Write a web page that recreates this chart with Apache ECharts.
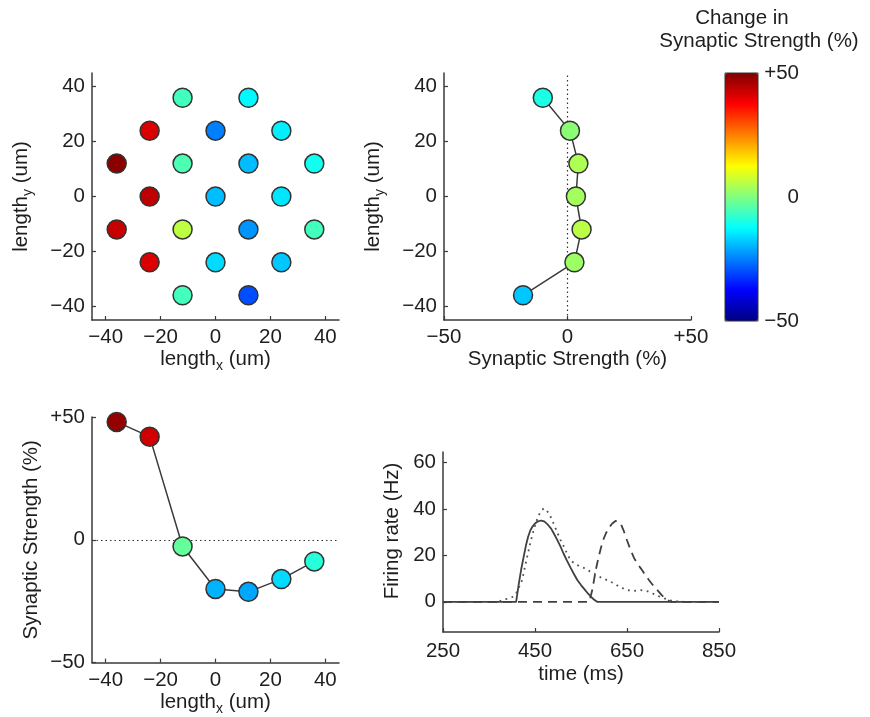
<!DOCTYPE html>
<html><head><meta charset="utf-8">
<script src="https://cdn.jsdelivr.net/npm/echarts@6/dist/echarts.min.js"></script>
<style>html,body{margin:0;padding:0;background:#fff}#c{width:870px;height:717px}</style>
</head><body><div id="c"></div>
<script>
// ---- data ----
const mapX = [-12, 12, -24, 0, 24, -36, -12, 12, 36, -24, 0, 24, -36, -12, 12, 36, -24, 0, 24, -12, 12];
const mapY = [36, 36, 24, 24, 24, 12, 12, 12, 12, 0, 0, 0, -12, -12, -12, -12, -24, -24, -24, -36, -36];
const mapChange = [-6, -13, 41, -25, -14, 49, -5, -19, -11, 44, -19, -15, 43, 6, -23, -6, 41, -16, -18, -6, -30];

const rowY = [36, 24, 12, 0, -12, -24, -36];
const rowStrength = [-10, 1, 4.4, 3.4, 5.7, 2.8, -18];

const colX = [-36, -24, -12, 0, 12, 24, 36];
const colStrength = [48, 42, -2.7, -20, -21.2, -16, -8.8];

const solidT = [250, 409, 415, 420, 425, 430, 435, 440, 445, 450, 455, 463, 470, 478, 485, 491, 498, 505, 512, 520, 527, 534, 542, 550, 556, 565, 572, 578, 585, 850];
const solidV = [0, 0, 8, 14, 19, 24, 28, 30.8, 32.5, 33.7, 34.5, 35, 34.6, 33.2, 31.5, 29.4, 26.8, 24, 20.8, 17.5, 14.8, 12.2, 9.4, 7.2, 5.8, 3.6, 2.1, 1, 0, 0];

const dotT = [250, 370, 382, 392, 403, 410, 416, 422, 427, 433, 440, 447, 452, 458, 464, 469, 474, 479, 484, 491, 498, 505, 513, 520, 527, 535, 542, 550, 560, 570, 580, 593, 607, 622, 636, 651, 665, 680, 695, 709, 720, 731, 745, 760, 775, 850];
const dotV = [0, 0, 1, 1.4, 2.2, 4, 6.5, 9.3, 14, 19.4, 25.5, 30.8, 34, 37.3, 39.3, 40.2, 39.8, 38.3, 36.6, 33.4, 30.1, 26.8, 23.7, 20.6, 18, 16.6, 15.8, 15.2, 14.2, 13, 12, 10.5, 9.3, 7.9, 6.2, 5, 4.7, 5, 4.5, 3.3, 2.3, 1.5, 0.6, 0.2, 0, 0];

const dashT = [250, 568, 575, 582, 588, 593, 598, 604, 611, 618, 625, 631, 637, 643, 650, 658, 665, 672, 680, 689, 698, 707, 716, 725, 732, 738, 745, 850];
const dashV = [0, 0, 5.5, 13.6, 19, 23, 26.5, 29.4, 32, 33.7, 34.8, 34.5, 33.3, 30.5, 26.5, 22.2, 19, 16.5, 14.4, 11.8, 9.3, 7, 5, 3, 1.6, 0.7, 0, 0];

const posTicks = [-40, -20, 0, 20, 40];
const pctTicks = [-50, 0, 50];
const timeTicks = [250, 450, 650, 850];
const rateTicks = [0, 20, 40, 60];

// ---- style ----
const FONT = 'Liberation Sans';
const FS = 20.5;
const TXT = '#1e1e1e';
const LINE = '#3a3a3a';
const jet = ['#000080', '#0000FF', '#0080FF', '#00FFFF', '#80FF80', '#FFFF00', '#FF8000', '#FF0000', '#800000'];

const minus = v => (v < 0 ? '\u2212' + (-v) : String(v));
const signed = v => (v > 0 ? '+' + v : v < 0 ? '\u2212' + (-v) : '0');

const rich = {
  m: { fontSize: FS, fontFamily: FONT, color: TXT, lineHeight: 28, verticalAlign: 'middle' },
  s: { fontSize: 14, fontFamily: FONT, color: TXT, lineHeight: 14, verticalAlign: 'bottom' }
};

function axis(gi, min, max, ticks, fmt, name, nameGap, extra) {
  return Object.assign({
    type: 'value', gridIndex: gi, min: min, max: max,
    axisLine: { show: true, onZero: false, lineStyle: { color: LINE, width: 1.5 } },
    axisTick: { show: true, inside: true, length: 4, customValues: ticks, lineStyle: { color: LINE, width: 1.2 } },
    axisLabel: { customValues: ticks, formatter: fmt, margin: 7, fontSize: FS, fontFamily: FONT, color: TXT },
    splitLine: { show: false },
    name: name, nameLocation: 'middle', nameGap: nameGap,
    nameTextStyle: { fontSize: FS, fontFamily: FONT, color: TXT, rich: rich }
  }, extra || {});
}

const dotStyle = { borderColor: '#333', borderWidth: 1.5, opacity: 1 };
const markZero = (key) => ({
  silent: true, symbol: 'none', label: { show: false },
  lineStyle: { color: '#333', width: 1.2, type: [1.5, 3] },
  data: [{ [key]: 0 }]
});

const option = {
  animation: false,
  backgroundColor: '#fff',
  textStyle: { fontFamily: FONT },
  grid: [
    { left: 92, top: 73, width: 247, height: 247 },
    { left: 444, top: 73, width: 247, height: 247 },
    { left: 92, top: 417, width: 247, height: 248 },
    { left: 443, top: 452, width: 276, height: 180 },
    { left: 725, top: 73, width: 33, height: 248, show: true, borderColor: '#333', borderWidth: 1, backgroundColor: 'transparent', z: 10 }
  ],
  xAxis: [
    axis(0, -45, 45, posTicks, minus, '{m|length}{s|x}{m| (um)}', 16),
    axis(1, -50, 50, pctTicks, signed, 'Synaptic Strength (%)', 20),
    axis(2, -45, 45, posTicks, minus, '{m|length}{s|x}{m| (um)}', 18),
    axis(3, 250, 850, timeTicks, String, 'time (ms)', 32, { axisLabel: { customValues: timeTicks, margin: 9, fontSize: FS, fontFamily: FONT, color: TXT } }),
    { type: 'value', gridIndex: 4, min: 0, max: 1, show: false }
  ],
  yAxis: [
    axis(0, -45, 45, posTicks, minus, '{m|length}{s|y}{m| (um)}', 57),
    axis(1, -45, 45, posTicks, minus, '{m|length}{s|y}{m| (um)}', 57),
    axis(2, -50, 50, pctTicks, signed, 'Synaptic Strength (%)', 50),
    axis(3, -13, 64.5, rateTicks, String, 'Firing rate (Hz)', 40, { nameTextStyle: { fontSize: FS, fontFamily: FONT, color: TXT, padding: [0, 0, 0, 22] } }),
    { type: 'value', gridIndex: 4, min: -50, max: 50, position: 'right', z: 20,
      axisLine: { show: false },
      axisTick: { show: false },
      axisLabel: { customValues: pctTicks, formatter: signed, align: 'right', margin: 41, fontSize: FS, fontFamily: FONT, color: TXT },
      splitLine: { show: false } }
  ],
  visualMap: [
    { type: 'continuous', min: -50, max: 50, seriesIndex: 0, dimension: 2, inRange: { color: jet },
      left: 725, top: 73, itemWidth: 33, itemHeight: 248, padding: 0, calculable: false, show: true, hoverLink: false, z: 1 },
    { type: 'continuous', min: -50, max: 50, seriesIndex: 2, dimension: 0, inRange: { color: jet }, show: false },
    { type: 'continuous', min: -50, max: 50, seriesIndex: 4, dimension: 1, inRange: { color: jet }, show: false }
  ],
  graphic: [
    { type: 'text', x: 742, y: 18, style: { text: 'Change in', textAlign: 'center', textVerticalAlign: 'middle', fontSize: FS, fontFamily: FONT, fill: TXT } },
    { type: 'text', x: 759, y: 41, style: { text: 'Synaptic Strength (%)', textAlign: 'center', textVerticalAlign: 'middle', fontSize: FS, fontFamily: FONT, fill: TXT } }
  ],
  series: [
    { type: 'scatter', xAxisIndex: 0, yAxisIndex: 0, symbolSize: 19, itemStyle: dotStyle,
      data: mapX.map((x, i) => [x, mapY[i], mapChange[i]]) },
    { type: 'line', xAxisIndex: 1, yAxisIndex: 1, showSymbol: false, symbol: 'none',
      lineStyle: { color: LINE, width: 1.5 }, markLine: markZero('xAxis'),
      data: rowStrength.map((v, i) => [v, rowY[i]]) },
    { type: 'scatter', xAxisIndex: 1, yAxisIndex: 1, symbolSize: 19, itemStyle: dotStyle, z: 5,
      data: rowStrength.map((v, i) => [v, rowY[i]]) },
    { type: 'line', xAxisIndex: 2, yAxisIndex: 2, showSymbol: false, symbol: 'none',
      lineStyle: { color: LINE, width: 1.5 }, markLine: markZero('yAxis'),
      data: colX.map((x, i) => [x, colStrength[i]]) },
    { type: 'scatter', xAxisIndex: 2, yAxisIndex: 2, symbolSize: 19, itemStyle: dotStyle, z: 5,
      data: colX.map((x, i) => [x, colStrength[i]]) },
    { type: 'line', xAxisIndex: 3, yAxisIndex: 3, symbol: 'none',
      lineStyle: { color: '#404040', width: 1.8 },
      data: solidT.map((t, i) => [t, solidV[i]]) },
    { type: 'line', xAxisIndex: 3, yAxisIndex: 3, symbol: 'none',
      lineStyle: { color: '#505050', width: 1.8, type: [1.8, 4.5] },
      data: dotT.map((t, i) => [t, dotV[i]]) },
    { type: 'line', xAxisIndex: 3, yAxisIndex: 3, symbol: 'none',
      lineStyle: { color: '#404040', width: 1.8, type: [9, 6] },
      data: dashT.map((t, i) => [t, dashV[i]]) }
  ]
};

const chart = echarts.init(document.getElementById('c'), null, { renderer: 'canvas' });
chart.setOption(option);
</script>
</body></html>
